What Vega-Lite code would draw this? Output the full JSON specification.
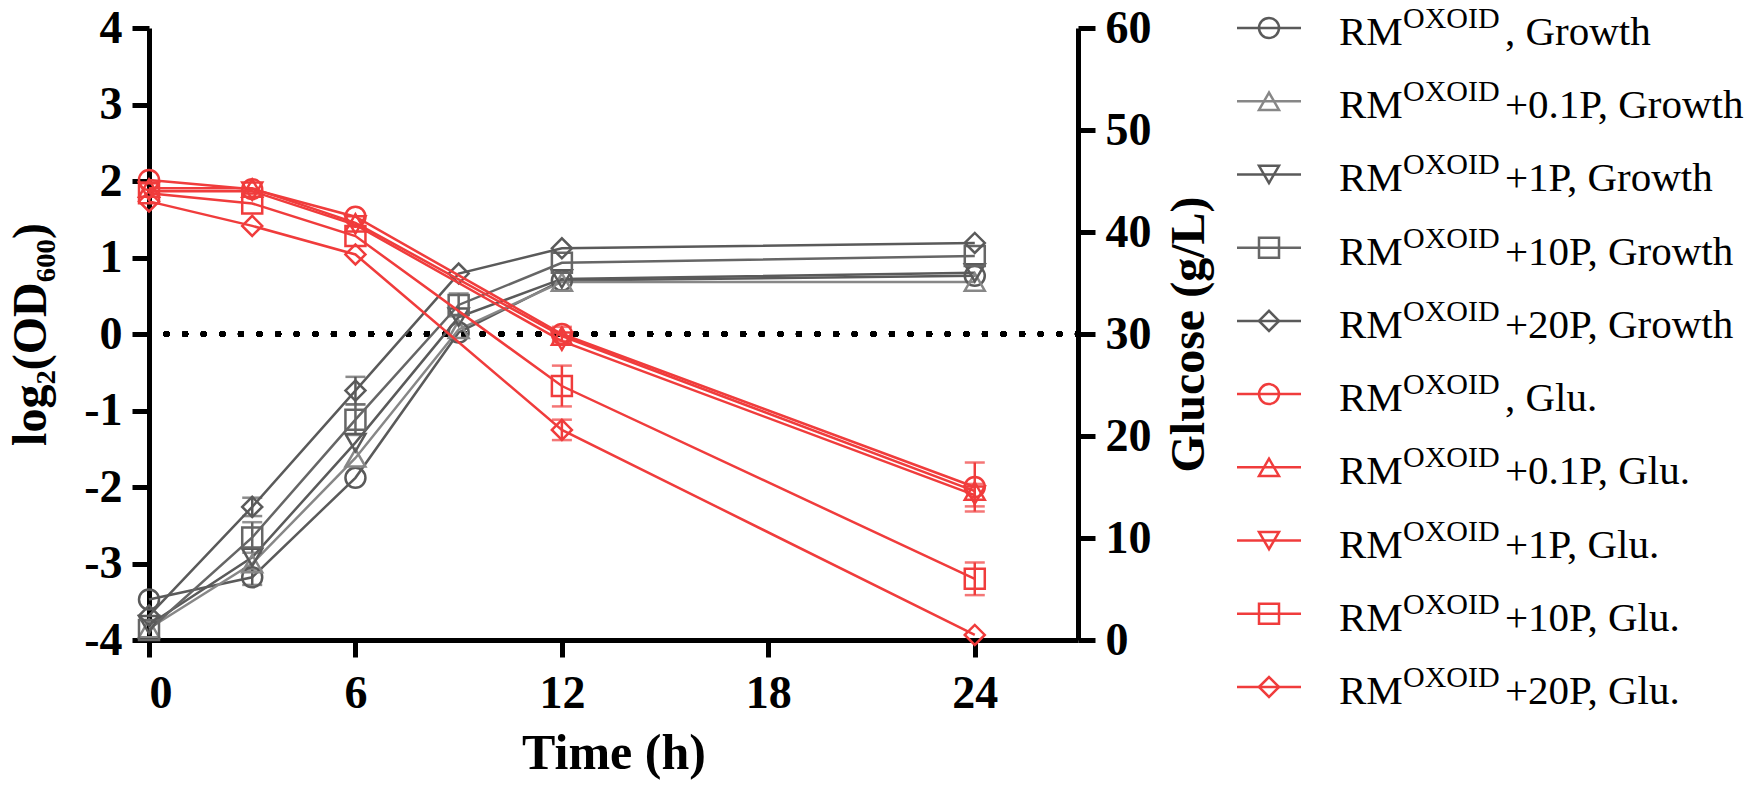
{
  "$schema": "https://vega.github.io/schema/vega-lite/v6.json",
  "background": "white",
  "padding": {"left": 7, "top": 4, "right": 5, "bottom": 2},
  "config": {
    "font": "Liberation Serif",
    "view": {"stroke": null},
    "axis": {
      "grid": false,
      "domainColor": "black",
      "domainWidth": 5,
      "tickColor": "black",
      "tickWidth": 5,
      "tickSize": 17,
      "labelFont": "Liberation Serif",
      "labelFontSize": 46,
      "labelFontWeight": "bold",
      "labelColor": "black",
      "labelPadding": 10,
      "titleFont": "Liberation Serif",
      "titleFontSize": 48,
      "titleFontWeight": "bold",
      "titleColor": "black"
    }
  },
  "datasets": {
    "growth": [
      {"s": "RM, Growth", "p": "0P", "t": 0, "v": -3.47},
      {"s": "RM, Growth", "p": "0P", "t": 3, "v": -3.18, "lo": -3.28, "hi": -3.08},
      {"s": "RM, Growth", "p": "0P", "t": 6, "v": -1.88},
      {"s": "RM, Growth", "p": "0P", "t": 9, "v": 0.02},
      {"s": "RM, Growth", "p": "0P", "t": 12, "v": 0.7},
      {"s": "RM, Growth", "p": "0P", "t": 24, "v": 0.76},
      {"s": "RM+0.1P, Growth", "p": "0.1P", "t": 0, "v": -3.85},
      {"s": "RM+0.1P, Growth", "p": "0.1P", "t": 3, "v": -3.0},
      {"s": "RM+0.1P, Growth", "p": "0.1P", "t": 6, "v": -1.62},
      {"s": "RM+0.1P, Growth", "p": "0.1P", "t": 9, "v": 0.06},
      {"s": "RM+0.1P, Growth", "p": "0.1P", "t": 12, "v": 0.68},
      {"s": "RM+0.1P, Growth", "p": "0.1P", "t": 24, "v": 0.68},
      {"s": "RM+1P, Growth", "p": "1P", "t": 0, "v": -3.8},
      {"s": "RM+1P, Growth", "p": "1P", "t": 3, "v": -2.92},
      {"s": "RM+1P, Growth", "p": "1P", "t": 6, "v": -1.42},
      {"s": "RM+1P, Growth", "p": "1P", "t": 9, "v": 0.22},
      {"s": "RM+1P, Growth", "p": "1P", "t": 12, "v": 0.72},
      {"s": "RM+1P, Growth", "p": "1P", "t": 24, "v": 0.8},
      {"s": "RM+10P, Growth", "p": "10P", "t": 0, "v": -3.87},
      {"s": "RM+10P, Growth", "p": "10P", "t": 3, "v": -2.66, "lo": -2.86, "hi": -2.46},
      {"s": "RM+10P, Growth", "p": "10P", "t": 6, "v": -1.12, "lo": -1.32, "hi": -0.92},
      {"s": "RM+10P, Growth", "p": "10P", "t": 9, "v": 0.38, "lo": 0.23, "hi": 0.53},
      {"s": "RM+10P, Growth", "p": "10P", "t": 12, "v": 0.93},
      {"s": "RM+10P, Growth", "p": "10P", "t": 24, "v": 1.02},
      {"s": "RM+20P, Growth", "p": "20P", "t": 0, "v": -3.68},
      {"s": "RM+20P, Growth", "p": "20P", "t": 3, "v": -2.26, "lo": -2.38, "hi": -2.14},
      {"s": "RM+20P, Growth", "p": "20P", "t": 6, "v": -0.74, "lo": -0.92, "hi": -0.56},
      {"s": "RM+20P, Growth", "p": "20P", "t": 9, "v": 0.79},
      {"s": "RM+20P, Growth", "p": "20P", "t": 12, "v": 1.12},
      {"s": "RM+20P, Growth", "p": "20P", "t": 24, "v": 1.19}
    ],
    "glu": [
      {"s": "RM, Glu.", "p": "0P", "t": 0, "v": 45.1},
      {"s": "RM, Glu.", "p": "0P", "t": 3, "v": 44.2},
      {"s": "RM, Glu.", "p": "0P", "t": 6, "v": 41.5},
      {"s": "RM, Glu.", "p": "0P", "t": 12, "v": 30.0, "lo": 29.3, "hi": 30.7},
      {"s": "RM, Glu.", "p": "0P", "t": 24, "v": 15.0, "lo": 12.6, "hi": 17.4},
      {"s": "RM+0.1P, Glu.", "p": "0.1P", "t": 0, "v": 44.3},
      {"s": "RM+0.1P, Glu.", "p": "0.1P", "t": 3, "v": 44.3},
      {"s": "RM+0.1P, Glu.", "p": "0.1P", "t": 6, "v": 40.9},
      {"s": "RM+0.1P, Glu.", "p": "0.1P", "t": 12, "v": 29.8},
      {"s": "RM+0.1P, Glu.", "p": "0.1P", "t": 24, "v": 14.6},
      {"s": "RM+1P, Glu.", "p": "1P", "t": 0, "v": 44.0},
      {"s": "RM+1P, Glu.", "p": "1P", "t": 3, "v": 44.0},
      {"s": "RM+1P, Glu.", "p": "1P", "t": 6, "v": 40.7},
      {"s": "RM+1P, Glu.", "p": "1P", "t": 12, "v": 29.3},
      {"s": "RM+1P, Glu.", "p": "1P", "t": 24, "v": 14.2, "lo": 13.1, "hi": 15.3},
      {"s": "RM+10P, Glu.", "p": "10P", "t": 0, "v": 43.8},
      {"s": "RM+10P, Glu.", "p": "10P", "t": 3, "v": 42.8},
      {"s": "RM+10P, Glu.", "p": "10P", "t": 6, "v": 39.6},
      {"s": "RM+10P, Glu.", "p": "10P", "t": 12, "v": 24.9, "lo": 22.9, "hi": 26.9},
      {"s": "RM+10P, Glu.", "p": "10P", "t": 24, "v": 6.0, "lo": 4.4, "hi": 7.6},
      {"s": "RM+20P, Glu.", "p": "20P", "t": 0, "v": 43.0},
      {"s": "RM+20P, Glu.", "p": "20P", "t": 3, "v": 40.6},
      {"s": "RM+20P, Glu.", "p": "20P", "t": 6, "v": 37.8},
      {"s": "RM+20P, Glu.", "p": "20P", "t": 12, "v": 20.6, "lo": 19.6, "hi": 21.6},
      {"s": "RM+20P, Glu.", "p": "20P", "t": 24, "v": 0.5}
    ],
    "legend": [
      {"s": "RM, Growth", "p": "0P", "rest": ", Growth"},
      {"s": "RM+0.1P, Growth", "p": "0.1P", "rest": "+0.1P, Growth"},
      {"s": "RM+1P, Growth", "p": "1P", "rest": "+1P, Growth"},
      {"s": "RM+10P, Growth", "p": "10P", "rest": "+10P, Growth"},
      {"s": "RM+20P, Growth", "p": "20P", "rest": "+20P, Growth"},
      {"s": "RM, Glu.", "p": "0P", "rest": ", Glu."},
      {"s": "RM+0.1P, Glu.", "p": "0.1P", "rest": "+0.1P, Glu."},
      {"s": "RM+1P, Glu.", "p": "1P", "rest": "+1P, Glu."},
      {"s": "RM+10P, Glu.", "p": "10P", "rest": "+10P, Glu."},
      {"s": "RM+20P, Glu.", "p": "20P", "rest": "+20P, Glu."}
    ]
  },
  "bounds": "flush",
  "spacing": 159,
  "hconcat": [
    {
      "width": 929,
      "height": 612,
      "resolve": {"scale": {"y": "independent"}},
      "layer": [
        {
          "data": {"name": "growth"},
          "layer": [
            {
              "mark": {"type": "rule", "color": "black", "strokeWidth": 6, "strokeCap": "round", "strokeDash": [0.1, 18.5]},
              "encoding": {
                "y": {"datum": 0, "type": "quantitative", "scale": {"domain": [-4, 4], "nice": false}, "axis": {"values": [-4, -3, -2, -1, 0, 1, 2, 3, 4], "labelExpr": "'' + datum.value", "title": "log₂(OD₆₀₀)", "titlePadding": 28}}
              }
            },
            {
              "mark": {"type": "line", "strokeWidth": 2.5},
              "encoding": {
                "x": {"field": "t", "type": "quantitative", "scale": {"domain": [0, 27], "nice": false}, "axis": {"values": [0, 6, 12, 18, 24], "title": "Time (h)", "titleFontSize": 50, "labelPadding": 14, "titlePadding": 12}},
                "y": {"field": "v", "type": "quantitative", "scale": {"domain": [-4, 4], "nice": false}, "axis": {"values": [-4, -3, -2, -1, 0, 1, 2, 3, 4], "labelExpr": "'' + datum.value", "title": "log₂(OD₆₀₀)", "titlePadding": 28}},
                "color": {"field": "s", "type": "nominal", "legend": null, "scale": {"domain": ["RM, Growth", "RM+0.1P, Growth", "RM+1P, Growth", "RM+10P, Growth", "RM+20P, Growth", "RM, Glu.", "RM+0.1P, Glu.", "RM+1P, Glu.", "RM+10P, Glu.", "RM+20P, Glu."], "range": ["#5a5a5a", "#878787", "#5a5a5a", "#666666", "#5a5a5a", "#f03c3c", "#f03c3c", "#f03c3c", "#f03c3c", "#f03c3c"]}},
                "order": {"field": "t", "type": "quantitative"}
              }
            },
            {
              "transform": [{"filter": "isValid(datum.lo)"}],
              "mark": {"type": "errorbar", "ticks": true, "thickness": 2.5, "size": 20},
              "encoding": {
                "x": {"field": "t", "type": "quantitative", "scale": {"domain": [0, 27], "nice": false}, "axis": {"values": [0, 6, 12, 18, 24], "title": "Time (h)", "titleFontSize": 50, "labelPadding": 14, "titlePadding": 12}},
                "y": {"field": "lo", "type": "quantitative", "scale": {"domain": [-4, 4], "nice": false}, "axis": {"values": [-4, -3, -2, -1, 0, 1, 2, 3, 4], "labelExpr": "'' + datum.value", "title": "log₂(OD₆₀₀)", "titlePadding": 28}},
                "y2": {"field": "hi"},
                "color": {"field": "s", "type": "nominal", "legend": null}
              }
            },
            {
              "mark": {"type": "point", "filled": false, "size": 400, "strokeWidth": 2.5, "opacity": 1},
              "encoding": {
                "x": {"field": "t", "type": "quantitative", "scale": {"domain": [0, 27], "nice": false}, "axis": {"values": [0, 6, 12, 18, 24], "title": "Time (h)", "titleFontSize": 50, "labelPadding": 14, "titlePadding": 12}},
                "y": {"field": "v", "type": "quantitative", "scale": {"domain": [-4, 4], "nice": false}, "axis": {"values": [-4, -3, -2, -1, 0, 1, 2, 3, 4], "labelExpr": "'' + datum.value", "title": "log₂(OD₆₀₀)", "titlePadding": 28}},
                "color": {"field": "s", "type": "nominal", "legend": null},
                "shape": {"field": "p", "type": "nominal", "legend": null, "scale": {"domain": ["0P", "0.1P", "1P", "10P", "20P"], "range": ["circle", "triangle-up", "triangle-down", "square", "diamond"]}}
              }
            }
          ]
        },
        {
          "data": {"name": "glu"},
          "layer": [
            {
              "mark": {"type": "line", "strokeWidth": 2.5},
              "encoding": {
                "x": {"field": "t", "type": "quantitative", "scale": {"domain": [0, 27], "nice": false}, "axis": {"values": [0, 6, 12, 18, 24], "title": "Time (h)", "titleFontSize": 50, "labelPadding": 14, "titlePadding": 12}},
                "y": {"field": "v", "type": "quantitative", "scale": {"domain": [0, 60], "nice": false}, "axis": {"orient": "right", "values": [0, 10, 20, 30, 40, 50, 60], "title": "Glucose (g/L)", "titleAngle": 270, "titleBaseline": "top", "titlePadding": 14}},
                "color": {"field": "s", "type": "nominal", "legend": null},
                "order": {"field": "t", "type": "quantitative"}
              }
            },
            {
              "transform": [{"filter": "isValid(datum.lo)"}],
              "mark": {"type": "errorbar", "ticks": true, "thickness": 2.5, "size": 20},
              "encoding": {
                "x": {"field": "t", "type": "quantitative", "scale": {"domain": [0, 27], "nice": false}, "axis": {"values": [0, 6, 12, 18, 24], "title": "Time (h)", "titleFontSize": 50, "labelPadding": 14, "titlePadding": 12}},
                "y": {"field": "lo", "type": "quantitative", "scale": {"domain": [0, 60], "nice": false}, "axis": {"orient": "right", "values": [0, 10, 20, 30, 40, 50, 60], "title": "Glucose (g/L)", "titleAngle": 270, "titleBaseline": "top", "titlePadding": 14}},
                "y2": {"field": "hi"},
                "color": {"field": "s", "type": "nominal", "legend": null}
              }
            },
            {
              "mark": {"type": "point", "filled": false, "size": 400, "strokeWidth": 2.5, "opacity": 1},
              "encoding": {
                "x": {"field": "t", "type": "quantitative", "scale": {"domain": [0, 27], "nice": false}, "axis": {"values": [0, 6, 12, 18, 24], "title": "Time (h)", "titleFontSize": 50, "labelPadding": 14, "titlePadding": 12}},
                "y": {"field": "v", "type": "quantitative", "scale": {"domain": [0, 60], "nice": false}, "axis": {"orient": "right", "values": [0, 10, 20, 30, 40, 50, 60], "title": "Glucose (g/L)", "titleAngle": 270, "titleBaseline": "top", "titlePadding": 14}},
                "color": {"field": "s", "type": "nominal", "legend": null},
                "shape": {"field": "p", "type": "nominal", "legend": null}
              }
            }
          ]
        }
      ]
    },
    {
      "width": 512,
      "height": 659,
      "data": {"name": "legend"},
      "encoding": {
        "y": {"field": "s", "type": "nominal", "axis": null, "sort": null, "scale": {"type": "point", "padding": 0.0, "domain": ["RM, Growth", "RM+0.1P, Growth", "RM+1P, Growth", "RM+10P, Growth", "RM+20P, Growth", "RM, Glu.", "RM+0.1P, Glu.", "RM+1P, Glu.", "RM+10P, Glu.", "RM+20P, Glu."]}}
      },
      "layer": [
        {
          "mark": {"type": "rule", "strokeWidth": 2.5},
          "encoding": {
            "x": {"datum": 0, "type": "quantitative", "scale": {"domain": [0, 512], "nice": false}, "axis": null},
            "x2": {"datum": 64},
            "color": {"field": "s", "type": "nominal", "legend": null}
          }
        },
        {
          "mark": {"type": "point", "filled": false, "size": 400, "strokeWidth": 2.5, "opacity": 1},
          "encoding": {
            "x": {"datum": 32, "type": "quantitative", "scale": {"domain": [0, 512], "nice": false}, "axis": null},
            "color": {"field": "s", "type": "nominal", "legend": null},
            "shape": {"field": "p", "type": "nominal", "legend": null}
          }
        },
        {
          "mark": {"type": "text", "text": "RM", "align": "left", "baseline": "alphabetic", "fontSize": 41, "dy": 17, "color": "black"},
          "encoding": {
            "x": {"datum": 102, "type": "quantitative", "scale": {"domain": [0, 512], "nice": false}, "axis": null}
          }
        },
        {
          "mark": {"type": "text", "text": "OXOID", "align": "left", "baseline": "alphabetic", "fontSize": 30, "dx": 64, "dy": 0, "color": "black"},
          "encoding": {
            "x": {"datum": 102, "type": "quantitative", "scale": {"domain": [0, 512], "nice": false}, "axis": null}
          }
        },
        {
          "mark": {"type": "text", "align": "left", "baseline": "alphabetic", "fontSize": 41, "dx": 166, "dy": 17, "color": "black"},
          "encoding": {
            "x": {"datum": 102, "type": "quantitative", "scale": {"domain": [0, 512], "nice": false}, "axis": null},
            "text": {"field": "rest", "type": "nominal"}
          }
        }
      ]
    }
  ]
}
